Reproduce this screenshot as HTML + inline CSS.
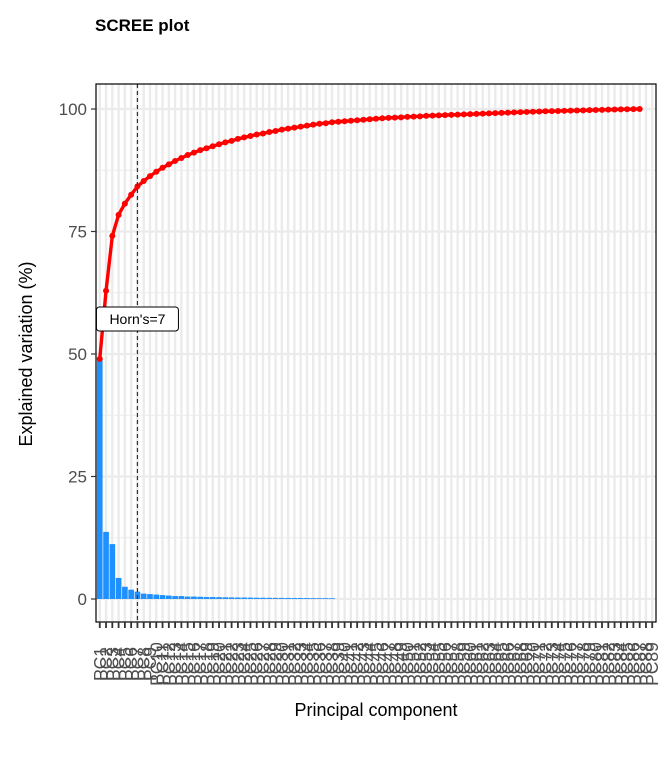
<!DOCTYPE html>
<html><head><meta charset="utf-8"><style>
body{margin:0;background:#fff;}
svg{display:block;font-family:"Liberation Sans",sans-serif;}
</style></head><body>
<svg id="chart" width="672" height="768" xmlns="http://www.w3.org/2000/svg">
<text x="95" y="31" font-size="17" font-weight="bold">SCREE plot</text>
<text transform="translate(32,354) rotate(-90)" text-anchor="middle" font-size="18" fill="#000">Explained variation (%)</text>
<text x="376" y="716" text-anchor="middle" font-size="18" fill="#000">Principal component</text>
<g id="grid"></g><g id="bars"></g><g id="line"></g><g id="axes"></g>
</svg>
<script>
const nCats = 89;
const barValues = [49,13.7,11.2,4.3,2.5,1.9,1.5,1.1,1.0,0.9,0.8,0.7,0.6,0.6,0.5,0.5,0.45,0.4,0.4,0.38,0.35,0.33,0.3,0.3,0.28,0.26,0.25,0.24,0.23,0.22,0.21,0.2,0.2,0.19,0.18,0.17,0.17,0.16,0,0,0,0,0,0,0,0,0,0,0,0,0,0,0,0,0,0,0,0,0,0,0,0,0,0,0,0,0,0,0,0,0,0,0,0,0,0,0,0,0,0,0,0,0,0,0,0,0,0,0];
const cumValues = [49,62.9,74.1,78.4,80.7,82.5,84.2,85.3,86.3,87.2,88.0,88.7,89.4,90.0,90.6,91.1,91.6,92.0,92.4,92.8,93.2,93.5,93.9,94.2,94.5,94.8,95.0,95.3,95.5,95.8,96.0,96.2,96.4,96.6,96.8,97.0,97.1,97.3,97.4,97.5,97.6,97.7,97.8,97.9,98.0,98.1,98.2,98.25,98.3,98.4,98.45,98.5,98.6,98.65,98.7,98.75,98.8,98.85,98.9,98.95,99.0,99.05,99.1,99.15,99.2,99.25,99.3,99.35,99.4,99.45,99.5,99.53,99.56,99.6,99.63,99.66,99.7,99.73,99.76,99.8,99.83,99.86,99.9,99.93,99.96,99.98,100];
const yTicks = [0,25,50,75,100];
const hornPC = 7;
const NS='http://www.w3.org/2000/svg';
const L=96,R=656,T=84,B=622;
const step=(R-L)/(nCats+0.2);
function xs(i){return L+(0.6+i)*step;}
function ys(v){return 599-v*4.9;}
function mk(tag,attrs,parent){const e=document.createElementNS(NS,tag);for(const k in attrs)e.setAttribute(k,attrs[k]);document.getElementById(parent).appendChild(e);return e;}
mk('rect',{x:L,y:T,width:R-L,height:B-T,fill:'#fff'},'grid');
for(let v=-12.5;v<=112.5;v+=12.5){const y=ys(v);if(y<T||y>B)continue;
 const g=mk('line',{x1:L,x2:R,y1:y,y2:y,stroke:'#ebebeb','stroke-width':yTicks.includes(v)?2.2:1.1},'grid');
 
 }
for(let i=0;i<nCats;i++){const x=xs(i);
 const g=mk('line',{x1:x,x2:x,y1:T,y2:B,stroke:'#ebebeb','stroke-width':2.4},'grid');
 
 }
barValues.forEach((v,i)=>{if(v<=0)return;const w=step*0.9;
 const r=mk('rect',{x:xs(i)-w/2,y:ys(v),width:w,height:Math.max(ys(0)-ys(v),0.8),fill:'#1e90ff'},'bars');
 
 });
const pl=mk('polyline',{points:cumValues.map((v,i)=>xs(i)+','+ys(v)).join(' '),fill:'none',stroke:'#ff0000','stroke-width':3.4,'stroke-linejoin':'round'},'line');


cumValues.forEach((v,i)=>{const c=mk('circle',{cx:xs(i),cy:ys(v),r:3,fill:'#ff0000'},'line');
 
 });
const hx=xs(hornPC-1);
const hl=mk('line',{x1:hx,x2:hx,y1:T,y2:B,stroke:'#333','stroke-width':1.2,'stroke-dasharray':'4,3'},'axes');


const hb=mk('rect',{x:hx-41,y:307,width:82,height:24,rx:3,fill:'#fff',stroke:'#000','stroke-width':1},'axes');


const ht=mk('text',{x:hx,y:324,'text-anchor':'middle','font-size':14},'axes');ht.textContent="Horn's=7";


const bd=mk('rect',{x:L,y:T,width:R-L,height:B-T,fill:'none',stroke:'#000','stroke-width':1.2},'axes');


yTicks.forEach(v=>{const y=ys(v);
 mk('line',{x1:L-5,x2:L,y1:y,y2:y,stroke:'#333','stroke-width':1.2},'axes');
 const t=mk('text',{x:L-9,y:y+6,'text-anchor':'end','font-size':17,fill:'#4d4d4d'},'axes');t.textContent=v;
 
 });
for(let i=0;i<nCats;i++){const x=xs(i);
 mk('line',{x1:x,x2:x,y1:B,y2:B+6,stroke:'#333','stroke-width':1.8},'axes');
 const t=mk('text',{transform:'translate('+(x+6)+',664) rotate(-90)','text-anchor':'middle','font-size':17.5,fill:'#4d4d4d'},'axes');t.textContent='PC'+(i+1);
 
 }
</script>
</body></html>
